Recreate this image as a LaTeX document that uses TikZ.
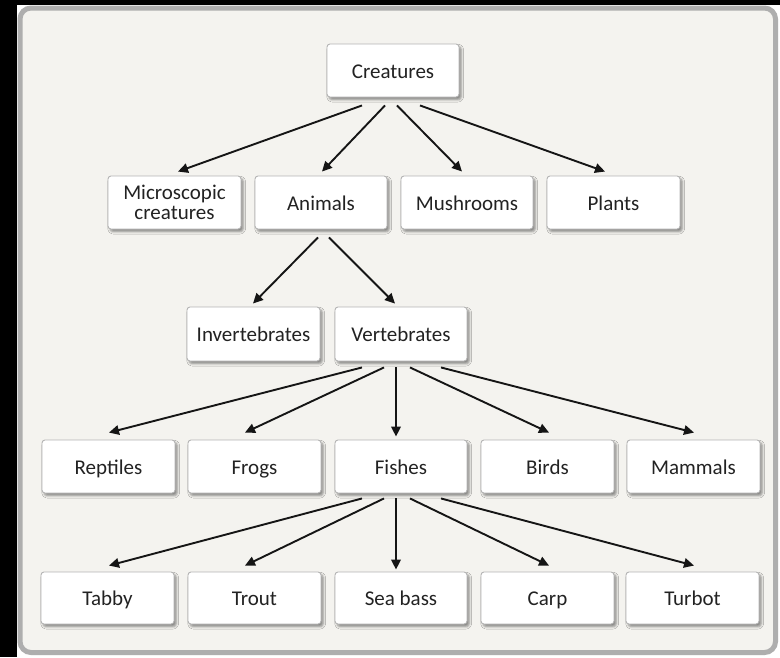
\documentclass[tikz,border=0pt]{standalone}
\usepackage{fontspec}
\setmainfont{Carlito}
\usetikzlibrary{arrows.meta,calc,shadows.blur}
\definecolor{panelfill}{HTML}{F4F3EF}
\definecolor{panelline}{HTML}{AEAEAE}
\definecolor{boxline}{HTML}{B4B4B4}
\definecolor{inktext}{HTML}{222222}
\definecolor{arrowink}{HTML}{151515}
\tikzset{
  box/.style={draw=boxline, line width=0.9pt, fill=white, rounded corners=3pt,
    minimum width=133pt, minimum height=53pt, inner sep=0pt, align=center,
    text=inktext, font=\fontsize{21}{20}\selectfont,
    text height=19pt, text depth=4pt,
    blur shadow={shadow xshift=2.2pt, shadow yshift=-2.6pt,
      shadow blur radius=2.4pt, shadow opacity=45}},
  arr/.style={draw=arrowink, line width=1.9pt,
    -{Triangle[length=10pt,width=9.5pt]}}
}
\begin{document}
\begin{tikzpicture}[x=1pt,y=-1pt]
\useasboundingbox (0,0) rectangle (780,657);
% outer frame
\fill[black] (0,0) rectangle (780,657);
\fill[white] (17,5) rectangle (780,657);
\draw[panelline, line width=5pt, fill=panelfill, rounded corners=11pt]
  (20,8) rectangle (775.5,652.5);

% level 1
\node[box, minimum width=132pt] (cre) at (393,70.5) {Creatures};
% level 2
\node[box, text height=37pt] (micro) at (174.5,202.5) {Microscopic\\creatures};
\node[box, minimum width=132pt] (anim) at (321,202.5) {Animals};
\node[box, minimum width=132pt] (mush) at (467,202.5) {Mushrooms};
\node[box] (plant) at (613.5,202.5) {Plants};
% level 3
\node[box, minimum height=54pt] (inv) at (253.5,334) {Invertebrates};
\node[box, minimum width=132pt, minimum height=54pt] (vert) at (401,334) {Vertebrates};
% level 4
\node[box] (rept) at (108.5,466.5) {Reptiles};
\node[box] (frog) at (254.5,466.5) {Frogs};
\node[box, minimum width=132pt] (fish) at (401,466.5) {Fishes};
\node[box] (bird) at (547.5,466.5) {Birds};
\node[box] (mamm) at (693.5,466.5) {Mammals};
% level 5
\node[box, minimum height=52pt] (tabby) at (107.5,598) {Tabby};
\node[box, minimum height=52pt] (trout) at (254.5,598) {Trout};
\node[box, minimum width=132pt, minimum height=52pt] (bass) at (401,598) {Sea bass};
\node[box, minimum height=52pt] (carp) at (547.5,598) {Carp};
\node[box, minimum height=52pt] (turb) at (692.5,598) {Turbot};

% connectors
\draw[arr] ($(cre.south)+(-31,8)$) -- ($(micro.north)+(3.5,-4)$);
\draw[arr] ($(cre.south)+(-8,8)$)  -- ($(anim.north)+(1,-4)$);
\draw[arr] ($(cre.south)+(4,8)$)   -- ($(mush.north)+(-5,-4)$);
\draw[arr] ($(cre.south)+(27,8)$)  -- ($(plant.north)+(-8.5,-4)$);

\draw[arr] ($(anim.south)+(-3,8)$) -- ($(inv.north)+(-0.5,-3)$);
\draw[arr] ($(anim.south)+(8,8)$)  -- ($(vert.north)+(-6,-3)$);

\draw[arr] ($(vert.south)+(-39,6)$) -- ($(rept.north)+(0.5,-7)$);
\draw[arr] ($(vert.south)+(-17,6)$) -- ($(frog.north)+(-9.5,-7)$);
\draw[arr] ($(vert.south)+(-5,6)$)  -- ($(fish.north)+(-5,-3)$);
\draw[arr] ($(vert.south)+(9,6)$)   -- ($(bird.north)+(1.5,-7)$);
\draw[arr] ($(vert.south)+(40,6)$)  -- ($(mamm.north)+(0.5,-7)$);

\draw[arr] ($(fish.south)+(-39,5)$) -- ($(tabby.north)+(1.5,-6)$);
\draw[arr] ($(fish.south)+(-17,5)$) -- ($(trout.north)+(-9.5,-6)$);
\draw[arr] ($(fish.south)+(-5,5)$)  -- ($(bass.north)+(-5,-2)$);
\draw[arr] ($(fish.south)+(9,5)$)   -- ($(carp.north)+(1.5,-6)$);
\draw[arr] ($(fish.south)+(40,5)$)  -- ($(turb.north)+(1.5,-6)$);
\end{tikzpicture}
\end{document}
